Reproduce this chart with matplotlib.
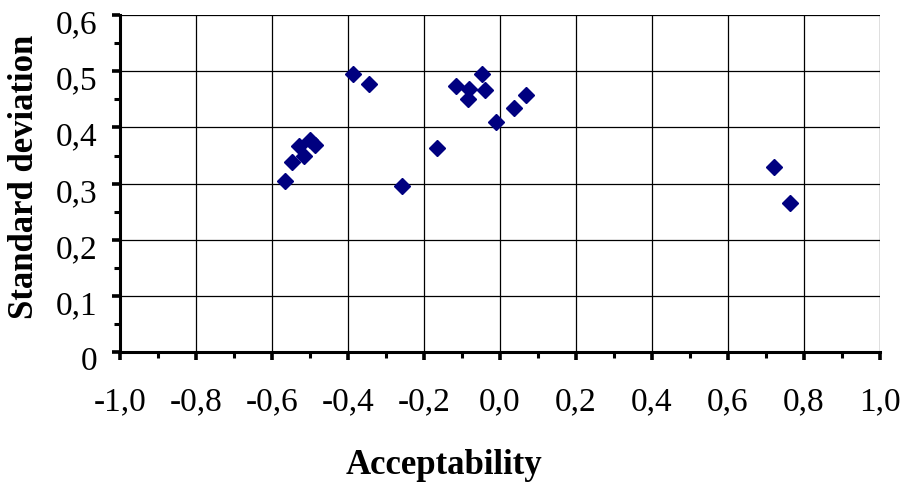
import matplotlib.pyplot as plt
from matplotlib.ticker import MultipleLocator, FuncFormatter
from matplotlib.transforms import ScaledTranslation

# acceptability (x) vs standard deviation (y)
acceptability = [-0.566, -0.547, -0.529, -0.516, -0.500, -0.487,
                 -0.386, -0.344, -0.259, -0.167,
                 -0.117, -0.081, -0.083, -0.047, -0.039, -0.011, 0.037, 0.068,
                 0.722, 0.763]
std_dev = [0.304, 0.338, 0.367, 0.349, 0.377, 0.368,
           0.495, 0.477, 0.296, 0.364,
           0.473, 0.468, 0.450, 0.495, 0.467, 0.410, 0.435, 0.458,
           0.330, 0.265]

plt.rcParams['font.family'] = ['Liberation Serif', 'DejaVu Serif']

fig = plt.figure(figsize=(9.02, 4.89), dpi=100)
ax = fig.add_axes([0.133, 0.278, 0.8426, 0.689])

ax.plot(acceptability, std_dev, linestyle='none', marker='D',
        markersize=8, color='#000080', zorder=3, clip_on=False)

ax.set_xlim(-1.0, 1.0)
ax.set_ylim(0, 0.6)

ax.xaxis.set_major_locator(MultipleLocator(0.2))
ax.xaxis.set_minor_locator(MultipleLocator(0.1))
ax.yaxis.set_major_locator(MultipleLocator(0.1))
ax.yaxis.set_minor_locator(MultipleLocator(0.05))

def comma_fmt(decimals, zero_plain=False):
    def f(v, pos):
        if zero_plain and abs(v) < 1e-9:
            return '0'
        s = f'{v:.{decimals}f}'
        if s.startswith('-0') and abs(v) < 1e-9:
            s = s[1:]
        return s.replace('.', ',')
    return FuncFormatter(f)

ax.xaxis.set_major_formatter(comma_fmt(1))
ax.yaxis.set_major_formatter(comma_fmt(1, zero_plain=True))

ax.grid(True, which='major', color='black', linewidth=0.9)
ax.spines['top'].set_visible(False)
ax.spines['right'].set_visible(False)
for s in ('left', 'bottom'):
    ax.spines[s].set_linewidth(2.2)

ax.tick_params(which='major', direction='out', length=6, width=2.6,
               labelsize=24)
ax.tick_params(which='minor', direction='out', length=4, width=2.2)
ax.tick_params(axis='x', which='major', pad=18)
ax.tick_params(axis='y', which='major', pad=10)

# y tick labels sit a little low in the original
shift = ScaledTranslation(0, -4 / 72, fig.dpi_scale_trans)
for lab in ax.get_yticklabels():
    lab.set_transform(lab.get_transform() + shift)

ax.set_xlabel('Acceptability', fontsize=25, fontweight='bold')
ax.xaxis.set_label_coords(0.426, -0.285)
ax.set_ylabel('Standard deviation', fontsize=25, fontweight='bold', va='center')
ax.yaxis.set_label_coords(-0.125, 0.522)

fig.savefig('out.png', dpi=100)
